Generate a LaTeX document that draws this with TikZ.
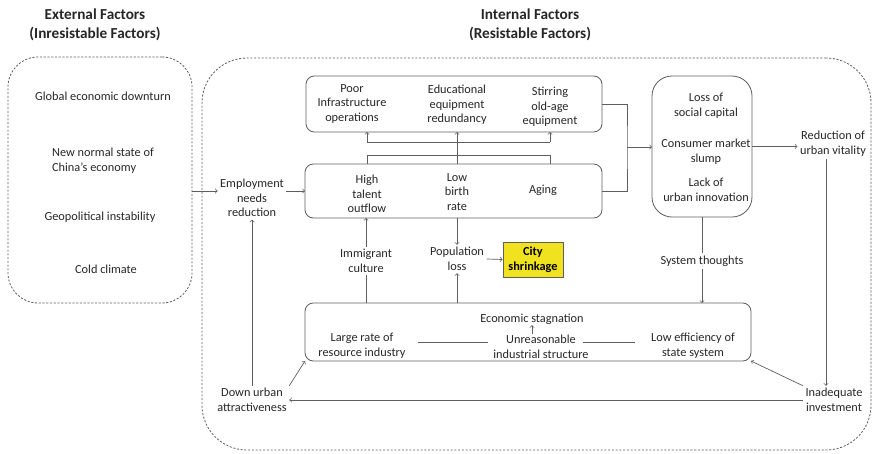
\documentclass[tikz,border=0pt]{standalone}
\usepackage{fontspec}
\setmainfont{Carlito}
\usepackage{xcolor}
\usepackage{tikz}

\definecolor{linegray}{RGB}{95,95,95}
\definecolor{shrinkyellow}{RGB}{240,226,30}

\begin{document}
\begin{tikzpicture}[x=0.03cm, y=-0.03cm, font=\fontsize{10.5}{12.5}\selectfont]
    \tikzstyle{zone} = [rectangle, draw=linegray, line width=0.7pt, dash pattern=on 1.8pt off 1.4pt, outer sep=0pt, inner sep=0pt]
    \tikzstyle{block} = [rectangle, draw=linegray, line width=0.7pt, rounded corners=0.25cm, outer sep=0pt, inner sep=0pt]
    \tikzstyle{txt} = [align=center, inner sep=2pt, text=black!85]
    \tikzstyle{title} = [align=center, font=\fontsize{13}{16.5}\selectfont\bfseries, text=black!85]
    \tikzstyle{line} = [draw=linegray, line width=0.6pt]
    \tikzstyle{arrow} = [line, ->]

    \useasboundingbox (0,0) rectangle (873,454);

    \node [title] (exttitle) at (95,25) {External Factors\\(Inresistable Factors)};
    \node [title] (inttitle) at (530,25) {Internal Factors\\(Resistable Factors)};

    \node [zone, rounded corners=0.9cm, minimum width=5.52cm, minimum height=7.38cm] (ext) at (100,180) {};
    \node [zone, rounded corners=1.35cm, minimum width=20.07cm, minimum height=11.76cm] (int) at (536.5,254) {};

    \node [txt] (global) at (103,96) {Global economic downturn};
    \node [txt, align=left] (china) at (103,161) {New normal state of\\China's economy};
    \node [txt] (geo) at (100,217) {Geopolitical instability};
    \node [txt] (cold) at (106,269) {Cold climate};

    \node [block, minimum width=8.88cm, minimum height=1.68cm] (top) at (454,104) {};
    \node [block, minimum width=8.91cm, minimum height=1.62cm] (mid) at (453.5,191) {};
    \node [block, rounded corners=0.6cm, minimum width=3cm, minimum height=4.23cm] (loss) at (702,146.5) {};
    \node [block, minimum width=13.38cm, minimum height=1.74cm] (bot) at (528,332) {};
    \node [rectangle, draw=linegray, fill=shrinkyellow, line width=0.7pt, minimum width=1.8cm, minimum height=1.05cm, align=center, font=\fontsize{10.5}{12.5}\selectfont\bfseries] (city) at (533,259.5) {City\\shrinkage};

    \node [txt] (infra) at (352,104) {Poor\\Infrastructure\\operations};
    \node [txt] (edu) at (457,105) {Educational\\equipment\\redundancy};
    \node [txt] (stir) at (550,107) {Stirring\\old-age\\equipment};

    \node [txt] (talent) at (367,194) {High\\talent\\outflow};
    \node [txt] (birth) at (457,192) {Low\\birth\\rate};
    \node [txt] (aging) at (543,190) {Aging};

    \node [txt] (capital) at (706,105.5) {Loss of\\social capital};
    \node [txt] (market) at (706,152) {Consumer market\\slump};
    \node [txt] (innov) at (706,190) {Lack of\\urban innovation};

    \node [txt] (emp) at (252,198) {Employment\\needs\\reduction};
    \node [txt] (reduc) at (833,143.5) {Reduction of\\urban vitality};
    \node [txt] (immig) at (366,261) {Immigrant\\culture};
    \node [txt] (pop) at (457,259) {Population\\loss};
    \node [txt] (sys) at (702,261) {System thoughts};

    \node [txt, inner sep=0.5pt] (econ) at (532,319) {Economic stagnation};
    \node [txt] (large) at (362,346) {Large rate of\\resource industry};
    \node [txt, inner sep=0.5pt] (unreas) at (541,346.5) {Unreasonable\\industrial structure};
    \node [txt] (low) at (693,346) {Low efficiency of\\state system};

    \node [txt] (down) at (252,400) {Down urban\\attractiveness};
    \node [txt] (inad) at (834,400) {Inadequate\\investment};

    \coordinate (b1) at (367,155);
    \coordinate (b2) at (550,155);
    \coordinate (c1) at (367,142);
    \coordinate (c2) at (550,142);
    \coordinate (j) at (627,147);
    \coordinate (v) at (826,160);

    \path [arrow] (ext.east |- mid.west) -- (emp.west |- mid.west);
    \path [arrow] (emp.east |- mid.west) -- (mid.west);
    \path [arrow] (down.north) -- (emp.south);

    \path [line] (b1 |- mid.north) -- (b1) -- (b2) -- (b2 |- mid.north);
    \path [arrow] (mid.north -| birth) -- (top.south -| birth);
    \path [line] (c1) -- (c2);
    \path [arrow] (c1) -- (c1 |- top.south);
    \path [arrow] (c2) -- (c2 |- top.south);

    \path [line] (top.east) -| (j) |- (mid.east);
    \path [arrow] (j) -- (j -| loss.west);
    \path [arrow] (loss.east) -- (loss.east -| reduc.west);
    \path [arrow] (v |- reduc.south) -- (v |- inad.north);

    \path [line] (loss.south) -- (sys.north);
    \path [arrow] (sys.south) -- (bot.north -| sys);

    \path [arrow] (mid.south -| birth) -- (pop.north);
    \path [arrow] (bot.north -| pop) -- (pop.south);
    \path [arrow] (pop.east) -- (city.west);
    \path [line] (bot.north -| immig) -- (immig.south);
    \path [arrow] (immig.north) -- (mid.south -| immig);

    \path [arrow] (unreas.north -| econ.south) -- (econ.south);
    \path [line] ([xshift=0.3cm]large.east |- 0,342) -- ([xshift=-0.15cm]unreas.west |- 0,342);
    \path [line] ([xshift=-0.2cm]unreas.east |- 0,342) -- ([xshift=-0.4cm]low.west |- 0,342);

    \path [arrow] (inad.west) -- (down.east);
    \path [arrow] (inad.north west) -- (bot.south east);
    \path [arrow] (down.north east) -- (bot.south west);
\end{tikzpicture}
\end{document}
